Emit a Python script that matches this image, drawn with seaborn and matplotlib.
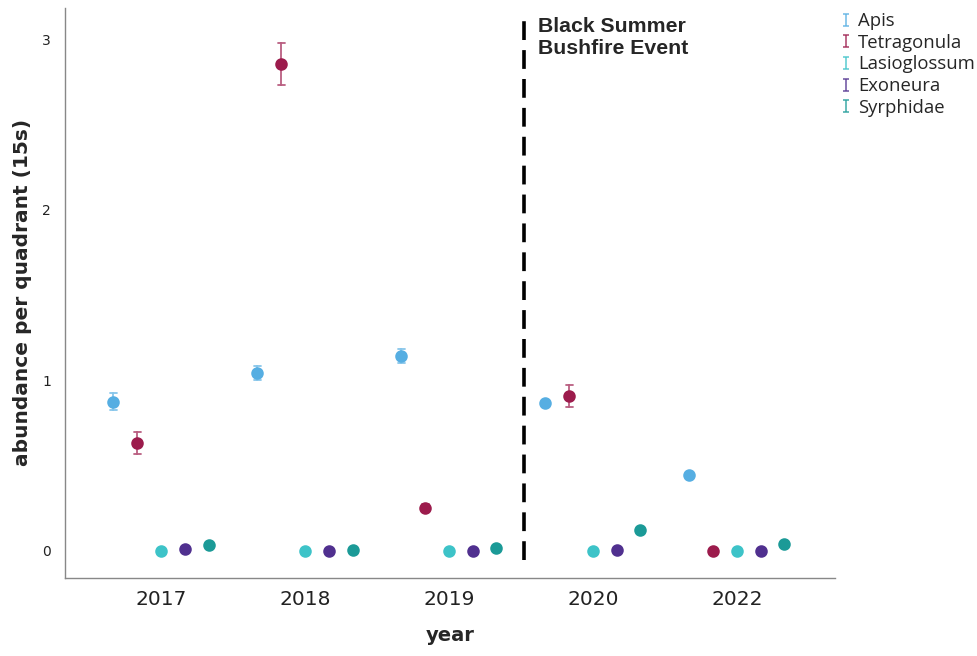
import numpy as np
import pandas as pd
import matplotlib
matplotlib.use("Agg")
import matplotlib.pyplot as plt
from matplotlib.path import Path
from matplotlib.lines import Line2D
import seaborn as sns

# Survey years and taxa
years = ["2017", "2018", "2019", "2020", "2022"]
taxa = ["Apis", "Tetragonula", "Lasioglossum", "Exoneura", "Syrphidae"]

# Mean abundance per quadrant (15 s), one value per year
apis_mean = [0.874, 1.044, 1.144, 0.868, 0.446]
tetragonula_mean = [0.633, 2.856, 0.252, 0.910, 0.0]
lasioglossum_mean = [0.0, 0.0, 0.0, 0.0, 0.0]
exoneura_mean = [0.012, 0.0, 0.0, 0.006, 0.0]
syrphidae_mean = [0.035, 0.006, 0.018, 0.123, 0.040]

# Half-width of the error bars
apis_err = [0.05, 0.04, 0.04, 0.01, 0.01]
tetragonula_err = [0.065, 0.123, 0.025, 0.065, 0.0]
lasioglossum_err = [0.0, 0.0, 0.0, 0.0, 0.0]
exoneura_err = [0.0, 0.0, 0.0, 0.0, 0.0]
syrphidae_err = [0.0, 0.0, 0.0, 0.0, 0.0]

colors = ["#56aee2", "#9c1b4c", "#3dc3c8", "#50308f", "#1b9a97"]

means = [apis_mean, tetragonula_mean, lasioglossum_mean, exoneura_mean, syrphidae_mean]
errs = [apis_err, tetragonula_err, lasioglossum_err, exoneura_err, syrphidae_err]

# Long-form table: each mean is carried by its lower and upper bound, so the
# estimator returns the mean and the min/max interval returns the error bar.
rows = []
for taxon, m_list, e_list in zip(taxa, means, errs):
    for year, m, e in zip(years, m_list, e_list):
        rows.append({"year": year, "taxon": taxon, "abundance": m - e})
        rows.append({"year": year, "taxon": taxon, "abundance": m + e})
df = pd.DataFrame(rows)

sns.set_theme(style="white")
plt.rcParams["font.family"] = ["DejaVu Sans"]

fig = plt.figure(figsize=(9.77, 6.56), dpi=100)
ax = fig.add_axes([0.0665, 0.119, 0.788, 0.869])

sns.pointplot(
    data=df, x="year", y="abundance", hue="taxon",
    order=years, hue_order=taxa, palette=colors,
    estimator="mean", errorbar=lambda v: (v.min(), v.max()),
    dodge=0.66, linestyle="none", markers="o", markersize=7,
    capsize=0.05, err_kws={"linewidth": 1.3, "alpha": 0.7},
    legend=False, ax=ax,
)

ax.set_xlim(-0.667, 4.68)
ax.set_ylim(-0.158, 3.185)
ax.set_yticks([0, 1, 2, 3])
ax.set_yticklabels(["0", "1", "2", "3"], fontsize=10, color="#222222")
ax.tick_params(axis="x", labelsize=14.5, colors="#222222", length=0, pad=9)
ax.tick_params(axis="y", length=0, pad=10)

ax.set_xlabel("year", fontsize=14, fontweight="bold", labelpad=12)
ax.set_ylabel("abundance per quadrant (15s)", fontsize=14.5, fontweight="bold", labelpad=7)

for side in ["top", "right"]:
    ax.spines[side].set_visible(False)
for side in ["left", "bottom"]:
    ax.spines[side].set_color("#888888")
    ax.spines[side].set_linewidth(1.0)

# Black Summer bushfire marker between 2019 and 2020
event_x = 2.52
ax.plot([event_x, event_x], [-0.05, 3.16], color="black", linewidth=2.6,
        linestyle=(0, (5.2, 2.8)), solid_capstyle="butt", zorder=1)
ax.text(2.62, 3.13, "Black Summer\nBushfire Event", fontsize=15.3,
        fontweight="bold", family="Liberation Sans", va="top", ha="left",
        linespacing=1.2)

# Legend with error-bar glyphs
ibar = Path(
    [(-0.5, 1), (0.5, 1), (0, 1), (0, -1), (-0.5, -1), (0.5, -1)],
    [Path.MOVETO, Path.LINETO, Path.MOVETO, Path.LINETO, Path.MOVETO, Path.LINETO],
)
handles = [
    Line2D([], [], marker=ibar, linestyle="none", markersize=9,
           markeredgewidth=1.1, markeredgecolor=c, markerfacecolor="none", alpha=0.85)
    for c in colors
]
fig.legend(handles, taxa, loc="upper left", bbox_to_anchor=(0.853, 0.993),
           frameon=False, prop={"family": "Open Sans", "size": 13.3},
           handlelength=0.6, handletextpad=0.35, labelspacing=0.2,
           borderaxespad=0)

fig.savefig("out.png", dpi=100)
